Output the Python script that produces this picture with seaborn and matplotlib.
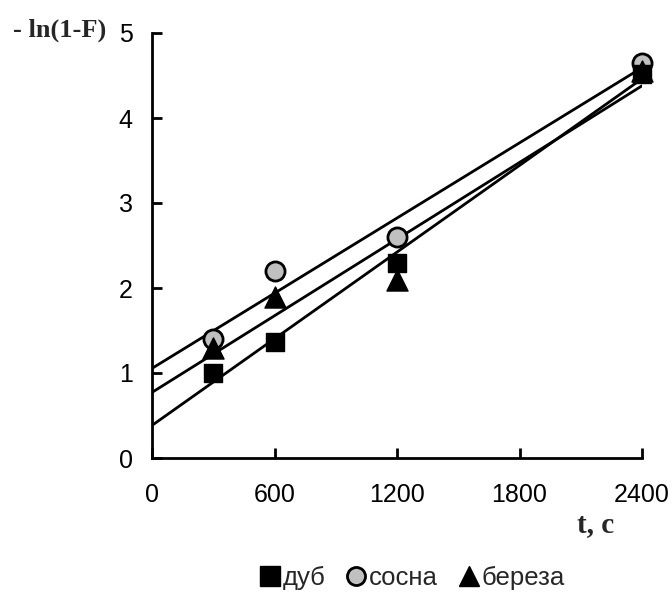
import matplotlib
matplotlib.use("Agg")
import matplotlib.pyplot as plt
import seaborn as sns
import pandas as pd
from matplotlib.lines import Line2D

t = [300, 600, 1200, 2400]
dub = [1.0, 1.36, 2.3, 4.52]
sosna = [1.4, 2.2, 2.6, 4.65]
bereza = [1.3, 1.9, 2.1, 4.55]
names = ["дуб", "сосна", "береза"]
x_ticks = [0, 600, 1200, 1800, 2400]
y_ticks = [0, 1, 2, 3, 4, 5]

sns.set_theme(style="ticks")
plt.rcParams['font.family'] = ['Liberation Sans', 'DejaVu Sans']

fig = plt.figure(figsize=(6.72, 5.99), dpi=100)
ax = fig.add_axes([152/672, 1-458/599, (642-152)/672, (458-33)/599])
ax.set_xlim(0, 2400)
ax.set_ylim(0, 5)

markers = ["s", "o", "^"]
styles = [
    dict(s=170, color="black", edgecolor="black", zorder=4, clip_on=False),
    dict(s=190, color="#c0c0c0", edgecolor="black", linewidths=2, zorder=3, clip_on=False),
    dict(s=230, color="black", edgecolor="black", zorder=5, clip_on=False),
]
series = [dub, sosna, bereza]
for name, vals, mk, st in zip(names, series, markers, styles):
    df = pd.DataFrame({"t": t, "y": vals})
    sns.regplot(data=df, x="t", y="y", ax=ax, ci=None, truncate=False, marker=mk,
                scatter_kws=dict(alpha=1, **st),
                line_kws=dict(color="black", lw=2, zorder=2))

ax.set_xlim(0, 2400)
ax.set_ylim(0, 5)
ax.set_xticks(x_ticks)
ax.set_yticks(y_ticks)
ax.set_xlabel("")
ax.set_ylabel("")
for s in ["top", "right"]:
    ax.spines[s].set_visible(False)
for s in ["left", "bottom"]:
    ax.spines[s].set_linewidth(2)
    ax.spines[s].set_color("black")
ax.tick_params(axis="both", direction="in", length=7, width=2, colors="black",
               labelsize=18)
ax.tick_params(axis="x", pad=18)
ax.tick_params(axis="y", pad=14)

fig.text(60/672, 1-30/599, "- ln(1-F)", family="Liberation Serif", fontweight="bold",
         fontsize=19, ha="center", va="center")
fig.text(596/672, 1-525/599, "t, c", family="Liberation Serif", fontweight="bold",
         fontsize=21, ha="center", va="center")

handles = [
    Line2D([], [], ls="none", marker="s", ms=14, mfc="black", mec="black"),
    Line2D([], [], ls="none", marker="o", ms=13, mfc="#c0c0c0", mec="black", mew=2),
    Line2D([], [], ls="none", marker="^", ms=15, mfc="black", mec="black"),
]
fig.legend(handles, names, loc="center", bbox_to_anchor=(412/672, 1-578/599),
           ncol=3, frameon=False, fontsize=18.5, handlelength=0.8, handletextpad=0.1,
           columnspacing=0.8)

fig.savefig("out.png", dpi=100)
